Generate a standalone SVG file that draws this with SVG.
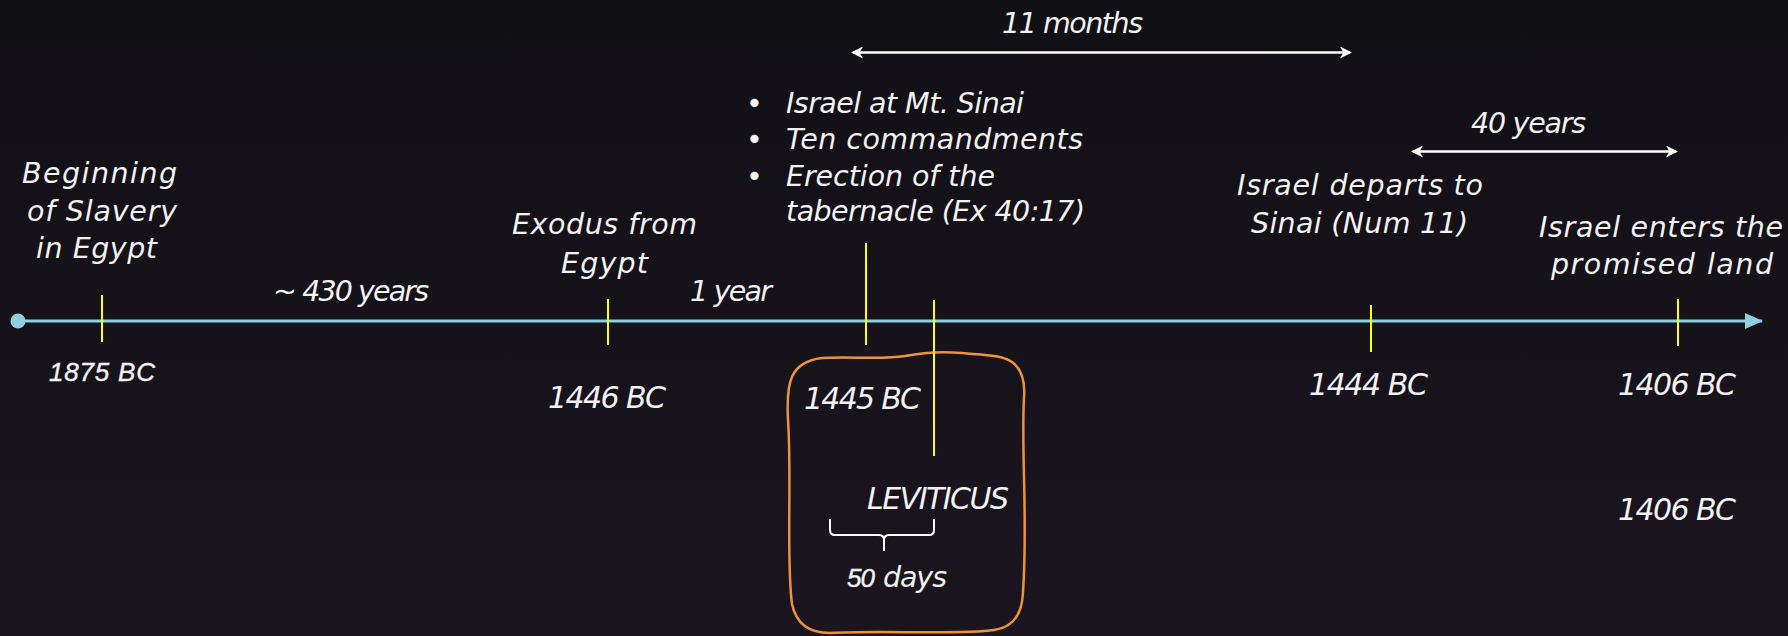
<svg xmlns="http://www.w3.org/2000/svg" width="1788" height="636" viewBox="0 0 1788 636">
<defs>
<linearGradient id="bg" x1="0" y1="0" x2="0" y2="1">
<stop offset="0" stop-color="#111015"/>
<stop offset="1" stop-color="#1b1520"/>
</linearGradient>
<marker id="ah" viewBox="0 0 12 12" refX="10" refY="6" markerWidth="12" markerHeight="12" markerUnits="userSpaceOnUse" orient="auto-start-reverse">
<path d="M0,0 L12,6 L0,12 L3.5,6 Z" fill="#ffffff"/>
</marker>
<marker id="tl" viewBox="0 0 18 16" refX="17" refY="8" markerWidth="18" markerHeight="16" markerUnits="userSpaceOnUse" orient="auto">
<path d="M0,0 L18,8 L0,16 Z" fill="#8fcfdf"/>
</marker>
<style>
.t{font-family:"DejaVu Sans",sans-serif;font-style:italic;font-size:28.5px;fill:#f2f2f2}
.d{font-family:"DejaVu Sans",sans-serif;font-style:italic;font-size:30px;fill:#f2f2f2}
.c{font-family:"Liberation Sans",Arial,sans-serif;font-style:italic;font-size:26px;fill:#f2f2f2;stroke:#f2f2f2;stroke-width:0.4}
.tick{stroke:#ffff00;stroke-width:2;fill:none}
.span{stroke:#ffffff;stroke-width:2.5;fill:none;marker-start:url(#ah);marker-end:url(#ah)}
</style>
</defs>
<rect width="1788" height="636" fill="url(#bg)"/>

<g id="connectors">
<line x1="18" y1="321" x2="1762" y2="321" stroke="#8fcfdf" stroke-width="3" marker-end="url(#tl)"/>
<circle cx="18" cy="321" r="7.5" fill="#8fcfdf"/>
<line class="span" x1="853" y1="52.5" x2="1350" y2="52.5"/>
<line class="span" x1="1413" y1="151.5" x2="1676" y2="151.5"/>
</g>

<g id="slavery">
<text class="t" x="22" y="183" textLength="155" lengthAdjust="spacing">Beginning</text>
<text class="t" x="27" y="221" textLength="150" lengthAdjust="spacing">of Slavery</text>
<text class="t" x="36" y="258" textLength="121" lengthAdjust="spacing">in Egypt</text>
<line class="tick" x1="102" y1="295" x2="102" y2="342"/>
<text class="c" x="49" y="381" textLength="106" lengthAdjust="spacing">1875 BC</text>
</g>

<g id="span-430">
<text class="t" x="273" y="301" textLength="156" lengthAdjust="spacing">~ 430 years</text>
</g>

<g id="exodus">
<text class="t" x="512" y="234" textLength="185" lengthAdjust="spacing">Exodus from</text>
<text class="t" x="561" y="273" textLength="87" lengthAdjust="spacing">Egypt</text>
<line class="tick" x1="608" y1="299" x2="608" y2="345"/>
<text class="d" x="548" y="408" textLength="118" lengthAdjust="spacing">1446 BC</text>
</g>

<g id="span-1year">
<text class="t" x="690" y="301" textLength="82" lengthAdjust="spacing">1 year</text>
</g>

<g id="sinai">
<text class="t" x="746" y="113">•</text>
<text class="t" x="786" y="113" textLength="238" lengthAdjust="spacing">Israel at Mt. Sinai</text>
<text class="t" x="746" y="149">•</text>
<text class="t" x="786" y="149" textLength="297" lengthAdjust="spacing">Ten commandments</text>
<text class="t" x="746" y="186">•</text>
<text class="t" x="786" y="186" textLength="209" lengthAdjust="spacing">Erection of the</text>
<text class="t" x="786" y="221" textLength="299" lengthAdjust="spacing">tabernacle (Ex 40:17)</text>
<line class="tick" x1="866" y1="243" x2="866" y2="345"/>
</g>

<g id="span-11months">
<text class="t" x="1002" y="33" textLength="141" lengthAdjust="spacing">11 months</text>
</g>

<g id="leviticus">
<path d="M822,358 C850,356 880,360 905,356 C925,352 940,351 962,353 C985,355 1002,355 1012,362 Q1026,372 1024,398 C1021,450 1028,520 1023,592 Q1022,626 994,630 C960,635 880,630 830,633 Q798,633 792,604 C786,560 792,480 788,420 C786,382 790,362 822,358 Z" fill="none" stroke="#f0923a" stroke-width="2.5"/>
<text class="d" x="804" y="409" textLength="117" lengthAdjust="spacing">1445 BC</text>
<line class="tick" x1="934" y1="300" x2="934" y2="456"/>
<text class="d" x="867" y="509" textLength="142" lengthAdjust="spacing">LEVITICUS</text>
<path d="M830,519 L830,530 Q830,535 835,535 L879,535 Q884,535 884,540 L884,551 M884,540 Q884,535 889,535 L929,535 Q934,535 934,530 L934,519" fill="none" stroke="#ffffff" stroke-width="2"/>
<text x="847" y="587"><tspan class="c" textLength="28" lengthAdjust="spacing">50</tspan><tspan class="t" x="883" textLength="64" lengthAdjust="spacing">days</tspan></text>
</g>

<g id="departs">
<text class="t" x="1237" y="195" textLength="246" lengthAdjust="spacing">Israel departs to</text>
<text class="t" x="1251" y="233" textLength="217" lengthAdjust="spacing">Sinai (Num 11)</text>
<line class="tick" x1="1371" y1="305" x2="1371" y2="352"/>
<text class="d" x="1309" y="395" textLength="119" lengthAdjust="spacing">1444 BC</text>
</g>

<g id="span-40years">
<text class="t" x="1471" y="133" textLength="115" lengthAdjust="spacing">40 years</text>
</g>

<g id="enters">
<text class="t" x="1539" y="237" textLength="244" lengthAdjust="spacing">Israel enters the</text>
<text class="t" x="1551" y="274" textLength="222" lengthAdjust="spacing">promised land</text>
<line class="tick" x1="1678" y1="299" x2="1678" y2="346"/>
<text class="d" x="1618" y="395" textLength="118" lengthAdjust="spacing">1406 BC</text>
<text class="d" x="1618" y="520" textLength="118" lengthAdjust="spacing">1406 BC</text>
</g>
</svg>
